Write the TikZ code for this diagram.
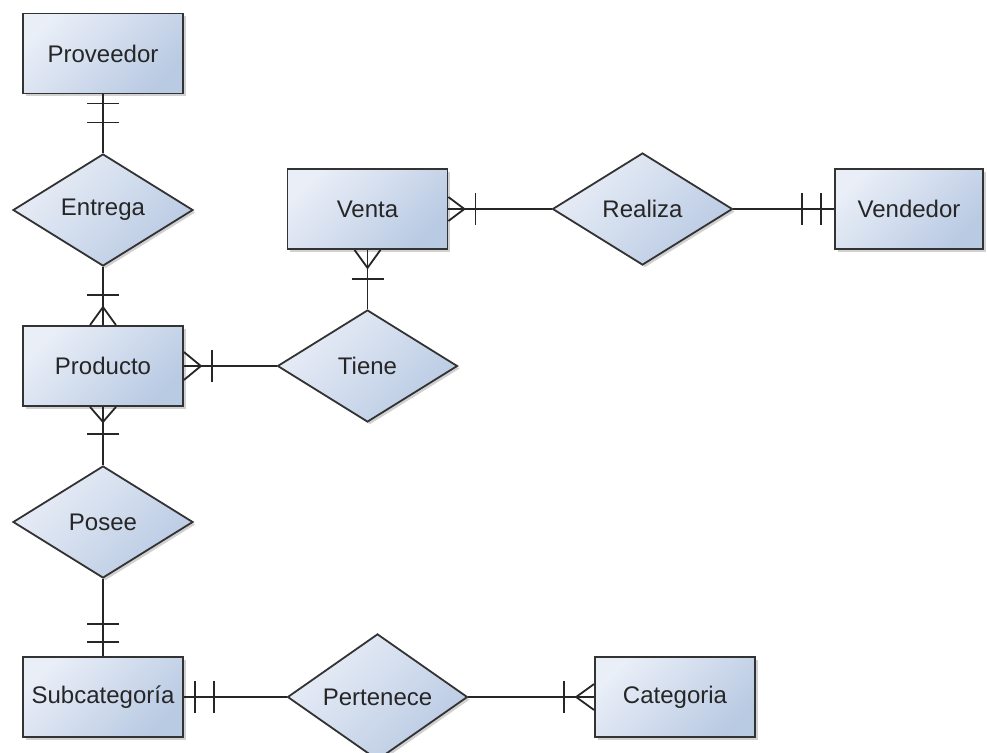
\documentclass[tikz,border=0pt]{standalone}
\usepackage{fontspec}
\setmainfont{Liberation Sans}
\usetikzlibrary{shapes.geometric,calc,shadows}
\definecolor{fillA}{HTML}{E9EEF7}
\definecolor{fillB}{HTML}{B9CAE3}
\definecolor{edgec}{HTML}{333333}
\definecolor{txtc}{HTML}{262626}
\tikzset{
  base/.style={draw=edgec, line width=1.8pt, top color=fillA, bottom color=fillB, shading angle=45,
    text=txtc, font=\fontsize{24}{29}\selectfont, inner sep=0pt,
    drop shadow={shadow xshift=2.5pt, shadow yshift=-2.5pt, opacity=0.18, fill=black}},
  entity/.style={base, rectangle, minimum width=160pt, minimum height=80pt},
  rel/.style={base, diamond, minimum width=180pt, minimum height=112pt},
  conn/.style={draw=black!85, line width=1.8pt},
}
\begin{document}
\begin{tikzpicture}[x=1pt,y=-1pt]
\useasboundingbox[fill=white] (0,0) rectangle (987,752);
% entities
\node[entity] (prov) at (103,53.5) {Proveedor};
\node[entity] (prod) at (103,366) {Producto};
\node[entity] (sub) at (103,697) {Subcategoría};
\node[entity] (venta) at (367.5,209) {Venta};
\node[entity, minimum width=148pt] (vend) at (909,209) {Vendedor};
\node[entity] (cat) at (675,697) {Categoria};
% relationships
\node[rel] (ent) at (103,210) {Entrega};
\node[rel] (posee) at (103,522) {Posee};
\node[rel] (tiene) at (367.5,366) {Tiene};
\node[rel] (real) at (642.5,209) {Realiza};
\node[rel] (pert) at (377.5,697) {Pertenece};
% connectors
\draw[conn] (prov.south) -- (ent.north);
\draw[conn] ($(prov.south)+(-16,9)$) -- ++(32,0);
\draw[conn] ($(prov.south)+(-16,28)$) -- ++(32,0);

\draw[conn] (ent.south) -- (prod.north);
\draw[conn] ($(prod.north)+(-16,-30)$) -- ++(32,0);
\draw[conn] ($(prod.north)+(-13,0)$) -- ($(prod.north)+(0,-18)$) -- ($(prod.north)+(13,0)$);

\draw[conn] (prod.east) -- (tiene.west);
\draw[conn] ($(prod.east)+(0,-14)$) -- ($(prod.east)+(17,0)$) -- ($(prod.east)+(0,14)$);
\draw[conn] ($(prod.east)+(28,-16)$) -- ++(0,32);

\draw[conn] (venta.south) -- (tiene.north);
\draw[conn] ($(venta.south)+(-13,0)$) -- ($(venta.south)+(0,18)$) -- ($(venta.south)+(13,0)$);
\draw[conn] ($(venta.south)+(-16,29)$) -- ++(32,0);

\draw[conn] (venta.east) -- (real.west);
\draw[conn] ($(venta.east)+(0,-12)$) -- ($(venta.east)+(16,0)$) -- ($(venta.east)+(0,12)$);
\draw[conn] ($(venta.east)+(27,-16)$) -- ++(0,32);

\draw[conn] (real.east) -- (vend.west);
\draw[conn] ($(vend.west)+(-32,-16)$) -- ++(0,32);
\draw[conn] ($(vend.west)+(-13,-16)$) -- ++(0,32);

\draw[conn] (prod.south) -- (posee.north);
\draw[conn] ($(prod.south)+(-13,0)$) -- ($(prod.south)+(0,15)$) -- ($(prod.south)+(13,0)$);
\draw[conn] ($(prod.south)+(-16,27)$) -- ++(32,0);

\draw[conn] (posee.south) -- (sub.north);
\draw[conn] ($(sub.north)+(-16,-32)$) -- ++(32,0);
\draw[conn] ($(sub.north)+(-16,-14)$) -- ++(32,0);

\draw[conn] (sub.east) -- (pert.west);
\draw[conn] ($(sub.east)+(11,-16)$) -- ++(0,32);
\draw[conn] ($(sub.east)+(30,-16)$) -- ++(0,32);

\draw[conn] (pert.east) -- (cat.west);
\draw[conn] ($(cat.west)+(-30,-16)$) -- ++(0,32);
\draw[conn] ($(cat.west)+(0,-13)$) -- ($(cat.west)+(-18,0)$) -- ($(cat.west)+(0,13)$);
\end{tikzpicture}
\end{document}
